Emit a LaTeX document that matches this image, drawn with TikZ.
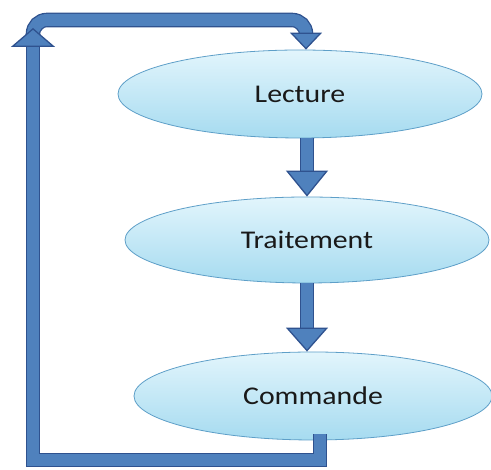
\documentclass[tikz,border=0pt]{standalone}
\usepackage{fontspec}
\newfontfamily\etiq{Carlito}[FakeStretch=1.17]
\usetikzlibrary{arrows.meta,shapes.geometric}
\definecolor{bleu}{HTML}{4F81BD}
\definecolor{bordbleu}{HTML}{2F528F}
\definecolor{cielhaut}{HTML}{E2F5FC}
\definecolor{cielbas}{HTML}{A6DBF0}
\definecolor{bordciel}{HTML}{5E9FC8}
\begin{document}
\begin{tikzpicture}[x=1pt,y=1pt,
    etape/.style={ellipse, draw=bordciel, line width=0.8pt, top color=cielhaut, bottom color=cielbas,
        minimum width=364pt, minimum height=88pt, inner sep=0pt,
        font=\etiq\fontsize{25.5}{30}\selectfont, text=black!90},
    fleche/.style 2 args={draw=bordbleu, line width=1.3pt, double=bleu, double distance=12pt,
        -{Triangle[length=#1, width=#2, line width=1.3pt, fill=bleu]}}]
    \useasboundingbox (0,0) rectangle (491,470);
    \node[etape] (lecture) at (300,376) {Lecture};
    \node[etape, minimum height=86pt] (traitement) at (307,230) {Traitement};
    \node[etape, minimum width=358pt] (commande) at (313,74) {Commande};
    % boucle de retour
    \coordinate (bas) at (320,10);
    \coordinate (gauche) at (33,10);
    \coordinate (haut) at (33,442);
    \coordinate (depart) at (33,425);
    \draw[fleche={26pt}{42pt}] (lecture.south -| traitement.north) -- (traitement.north);
    \draw[fleche={24pt}{42pt}] (traitement.south) -- (traitement.south |- commande.north);
    \draw[fleche={17pt}{32pt}, rounded corners=14pt] (depart) -- (33,450) -- (306,450) -- (lecture.north -| 306,0);
    \draw[fleche={19pt}{44pt}] (bas |- commande.south) ++(0,6) -- (bas) -- (gauche) -- (haut);
\end{tikzpicture}
\end{document}
